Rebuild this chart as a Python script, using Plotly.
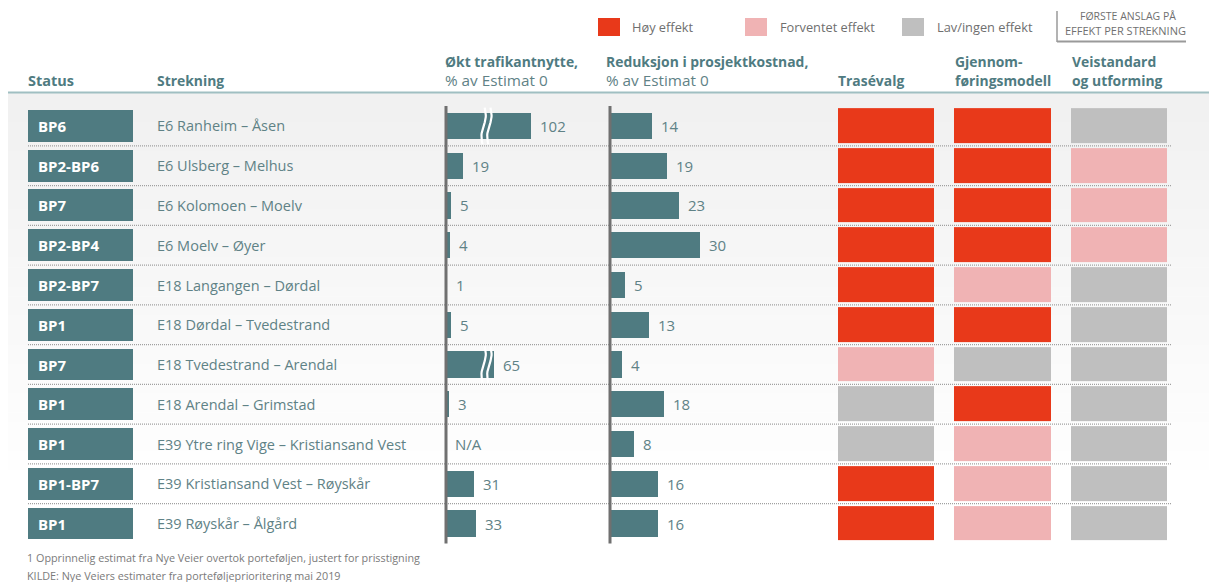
import plotly.graph_objects as go
import math

# ---------------- data ----------------
status = ["BP6", "BP2-BP6", "BP7", "BP2-BP4", "BP2-BP7", "BP1", "BP7", "BP1", "BP1", "BP1-BP7", "BP1"]
strekning = ["E6 Ranheim – Åsen", "E6 Ulsberg – Melhus", "E6 Kolomoen – Moelv", "E6 Moelv – Øyer",
             "E18 Langangen – Dørdal", "E18 Dørdal – Tvedestrand", "E18 Tvedestrand – Arendal",
             "E18 Arendal – Grimstad", "E39 Ytre ring Vige – Kristiansand Vest",
             "E39 Kristiansand Vest – Røyskår", "E39 Røyskår – Ålgård"]
trafikk = [102, 19, 5, 4, 1, 5, 65, 3, None, 31, 33]          # % av Estimat 0 (None = N/A)
trafikk_vist = {0: 94, 6: 53}                                   # visible length of the broken bars
trafikk_brudd = 45                                              # axis break position
kostnad = [14, 19, 23, 30, 5, 13, 4, 18, 8, 16, 16]
# effect levels: 2 = Høy effekt, 1 = Forventet effekt, 0 = Lav/ingen effekt
trasevalg = [2, 2, 2, 2, 2, 2, 1, 0, 0, 2, 2]
gjennomforing = [2, 2, 2, 2, 1, 2, 0, 2, 1, 1, 1]
veistandard = [0, 1, 1, 1, 0, 0, 0, 0, 0, 0, 0]
legend_labels = ["Høy effekt", "Forventet effekt", "Lav/ingen effekt"]

# ---------------- style ----------------
W, H = 1209, 582
TEAL = "#4f7b81"
TXT = "#5f8286"
RED, PINK, GREY = "#e8391a", "#f0b3b4", "#bfbfbf"
FONT = "Open Sans"

def px(x):
    return x / W

def py(y):
    return 1 - y / H

rows = list(range(len(status)))
fig = go.Figure()

# status boxes
fig.add_trace(go.Bar(x=[1] * len(rows), y=rows, base=0, orientation="h", width=0.8,
                     marker=dict(color=TEAL, line=dict(width=0)), xaxis="x", yaxis="y",
                     hoverinfo="skip"))

# traffic bars
t_len = [trafikk_vist.get(i, v) if v is not None else 0 for i, v in enumerate(trafikk)]
fig.add_trace(go.Bar(x=t_len, y=rows, orientation="h", width=0.66,
                     marker=dict(color=TEAL, line=dict(width=0)), xaxis="x2", yaxis="y",
                     hoverinfo="skip"))
# cost bars
fig.add_trace(go.Bar(x=kostnad, y=rows, orientation="h", width=0.66,
                     marker=dict(color=TEAL, line=dict(width=0)), xaxis="x3", yaxis="y",
                     hoverinfo="skip"))

# break marks on the broken traffic bars
for i in trafikk_vist:
    for off in (-3.2, 3.2):
        ys = [i - 0.46 + 0.92 * k / 20 for k in range(21)]
        xs = [trafikk_brudd + off - 1.2 * (k / 20 - 0.5) * 2 + 1.8 * math.sin(2 * math.pi * k / 20) for k in range(21)]
        fig.add_trace(go.Scatter(x=xs, y=ys, mode="lines", line=dict(color="white", width=2.2),
                                 xaxis="x2", yaxis="y", hoverinfo="skip", cliponaxis=False))

# effect heatmap
z = [[trasevalg[i], gjennomforing[i], veistandard[i]] for i in rows]
fig.add_trace(go.Heatmap(z=z, x=[0, 1, 2], y=rows, zmin=0, zmax=2, xgap=20, ygap=5,
                         colorscale=[[0, GREY], [0.25, GREY], [0.25, PINK], [0.75, PINK],
                                     [0.75, RED], [1, RED]],
                         showscale=False, xaxis="x4", yaxis="y", hoverinfo="skip"))

shapes = []
# background gradient
n = 40
y_top, y_bot = 93, 480
for k in range(n):
    c = int(241 + (255 - 241) * k / (n - 1))
    shapes.append(dict(type="rect", xref="paper", yref="paper", layer="below",
                       x0=px(8), x1=1, y0=py(y_top + (y_bot - y_top) * (k + 1) / n + 0.5),
                       y1=py(y_top + (y_bot - y_top) * k / n),
                       fillcolor=f"rgb({c},{c},{c})", line=dict(width=0)))
# header underline
shapes.append(dict(type="line", xref="paper", yref="paper", x0=px(8), x1=1, y0=py(92.5), y1=py(92.5),
                   line=dict(color="#a0bfc2", width=2)))
# dotted row separators
for i in rows[:-1]:
    shapes.append(dict(type="line", xref="paper", yref="y", x0=px(28), x1=px(1172), y0=i + 0.5, y1=i + 0.5,
                       layer="below", line=dict(color="#a0a0a0", width=1.2, dash="1px,1px")))
# vertical axis lines of the two bar charts
for ax in ("x2", "x3"):
    shapes.append(dict(type="line", xref=ax, yref="y", x0=0, x1=0, y0=-0.53, y1=10.6,
                       layer="above", line=dict(color="#707070", width=3)))
# legend swatches
for x0, col in zip((598, 745, 902), (RED, PINK, GREY)):
    shapes.append(dict(type="rect", xref="paper", yref="paper", x0=px(x0), x1=px(x0 + 22),
                       y0=py(36), y1=py(18), fillcolor=col, line=dict(width=0)))
# "FØRSTE ANSLAG" bracket
shapes.append(dict(type="line", xref="paper", yref="paper", x0=px(1057), x1=px(1057), y0=py(11), y1=py(42),
                   line=dict(color="#9a9a9a", width=1.5)))
shapes.append(dict(type="line", xref="paper", yref="paper", x0=px(1057), x1=px(1186), y0=py(41.5), y1=py(41.5),
                   line=dict(color="#9a9a9a", width=2)))

ann = []
def T(x, y, text, size=14, color=TXT, bold=False, anchor="left", xref="paper", yref="paper", xshift=0):
    ann.append(dict(x=x, y=y, xref=xref, yref=yref, text=f"<b>{text}</b>" if bold else text,
                    showarrow=False, xanchor=anchor, yanchor="middle", xshift=xshift,
                    font=dict(family=FONT, size=size, color=color)))

HB = 13.9
# headers
T(px(26), py(81), "Status", 14.5, TEAL, True)
T(px(155), py(81), "Strekning", HB, TEAL, True)
T(px(443), py(62), "Økt trafikantnytte,", HB, TEAL, True)
T(px(443), py(80), "% av Estimat 0", 15.3, TXT)
T(px(604), py(62), "Reduksjon i prosjektkostnad,", HB, TEAL, True)
T(px(604), py(80), "% av Estimat 0", 15.3, TXT)
T(px(836), py(81), "Trasévalg", HB, TEAL, True)
T(px(953), py(62), "Gjennom-", HB, TEAL, True)
T(px(953), py(81), "føringsmodell", HB, TEAL, True)
T(px(1070), py(62), "Veistandard", HB, TEAL, True)
T(px(1070), py(81), "og utforming", HB, TEAL, True)

# legend
for x0, lab in zip((630, 778, 935), legend_labels):
    T(px(x0), py(27), lab, 12.8, "#6f6f6f")
T(px(1128), py(16), "FØRSTE ANSLAG PÅ", 10.5, "#707070", anchor="center")
T(px(1125), py(30), "EFFEKT PER STREKNING", 11, "#707070", anchor="center")

# row texts
for i in rows:
    T(px(36), i, status[i], 15, "white", True, yref="y")
    T(px(155), i, strekning[i], 14.5, TXT, yref="y")
    v = trafikk[i]
    if v is None:
        T(0, i, "N/A", 15, TXT, xref="x2", yref="y", xshift=7)
    else:
        T(t_len[i], i, str(v), 15, TXT, xref="x2", yref="y", xshift=7)
    T(kostnad[i], i, str(kostnad[i]), 15, TXT, xref="x3", yref="y", xshift=7)

# footnotes
T(px(25), py(557), "1 Opprinnelig estimat fra Nye Veier overtok porteføljen, justert for prisstigning", 10.8, "#7a7a7a")
T(px(25), py(575), "KILDE: Nye Veiers estimater fra porteføljeprioritering mai 2019", 10.8, "#7a7a7a")

hidden = dict(visible=False, showgrid=False, zeroline=False, fixedrange=True)
fig.update_layout(
    width=W, height=H, margin=dict(l=0, r=0, t=0, b=0),
    paper_bgcolor="white", plot_bgcolor="rgba(0,0,0,0)",
    showlegend=False, barmode="overlay", bargap=0,
    xaxis=dict(domain=[px(28), px(133)], range=[0, 1], anchor="y", **hidden),
    xaxis2=dict(domain=[px(436), px(600)], range=[-10 / 0.9, 154 / 0.9], anchor="y", **hidden),
    xaxis3=dict(domain=[px(600), px(800)], range=[-10 / 3, 190 / 3], anchor="y", **hidden),
    xaxis4=dict(domain=[px(828), px(1177)], range=[-0.5, 2.5], anchor="y", **hidden),
    yaxis=dict(domain=[py(543.4), py(106.1)], range=[10.5, -0.5], **hidden),
    shapes=shapes, annotations=ann,
)
fig.write_html("out.html")
